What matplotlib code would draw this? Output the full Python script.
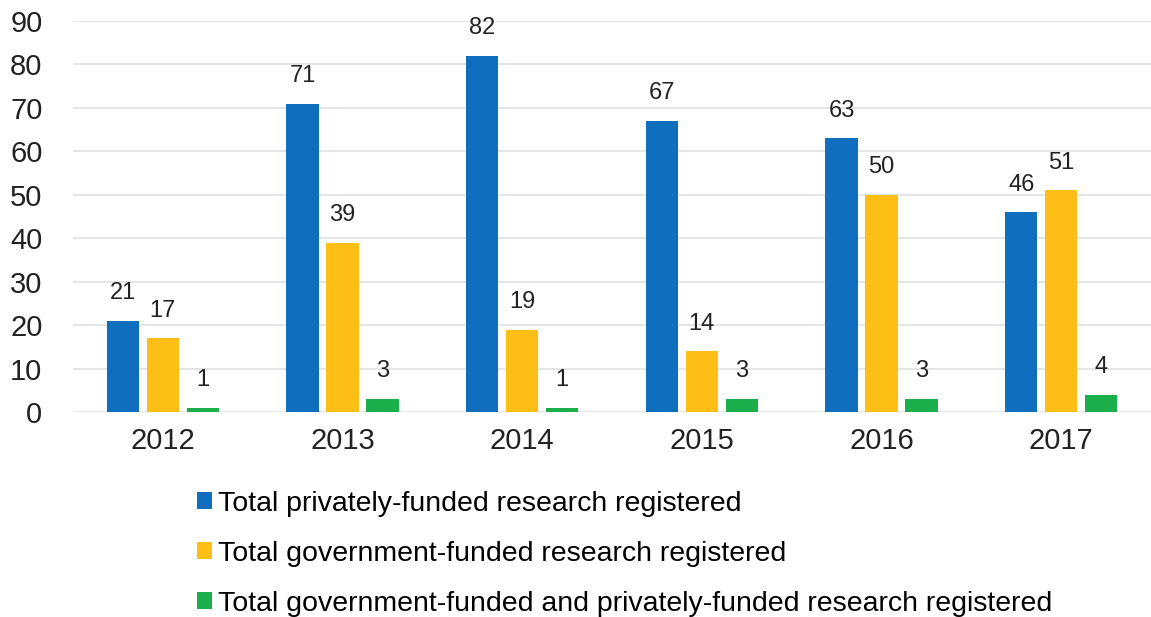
import numpy as np
import matplotlib.pyplot as plt

plt.rcParams['font.family'] = ['Liberation Sans', 'DejaVu Sans']

years = ["2012", "2013", "2014", "2015", "2016", "2017"]
private = [21, 71, 82, 67, 63, 46]
government = [17, 39, 19, 14, 50, 51]
both = [1, 3, 1, 3, 3, 4]
series_names = [
    "Total privately-funded research registered",
    "Total government-funded research registered",
    "Total government-funded and privately-funded research registered",
]
colors = ["#106EBE", "#FDBE16", "#1AAF4B"]

fig = plt.figure(figsize=(11.51, 6.17), dpi=100)
ax = fig.add_axes([0.0634, 0.332, 0.9366, 0.634])

x = np.arange(len(years))
width = 0.18
step = 0.222
handles = []
for i, (vals, name, col) in enumerate(zip([private, government, both], series_names, colors)):
    bars = ax.bar(x + (i - 1) * step, vals, width, color=col, label=name, zorder=3)
    handles.append(bars)
    for b, v in zip(bars, vals):
        ax.annotate(str(v), (b.get_x() + b.get_width() / 2, v), xytext=(0, 12),
                    textcoords='offset points', ha='center', va='bottom',
                    fontsize=17, color='#222222')

ax.set_xlim(-0.5, len(years) - 0.5)
ax.set_ylim(0, 90)
ax.set_yticks(range(0, 91, 10))
ax.set_xticks(x)
ax.set_xticklabels(years)
ax.tick_params(axis='both', length=0, labelsize=21, colors='#222222')
ax.tick_params(axis='y', pad=22)
ax.tick_params(axis='x', pad=11)
ax.grid(axis='y', color='#E0E0E0', linewidth=1.2, zorder=0)
for s in ax.spines.values():
    s.set_visible(False)

fig.legend(handles=handles, labels=series_names, loc='upper left',
           bbox_to_anchor=(0.171, 0.205), frameon=False, fontsize=20.5,
           handlelength=0.55, handleheight=0.55, handletextpad=0.2,
           labelspacing=0.85, borderaxespad=0, borderpad=0)

fig.savefig("out.png", dpi=100, facecolor='white')
